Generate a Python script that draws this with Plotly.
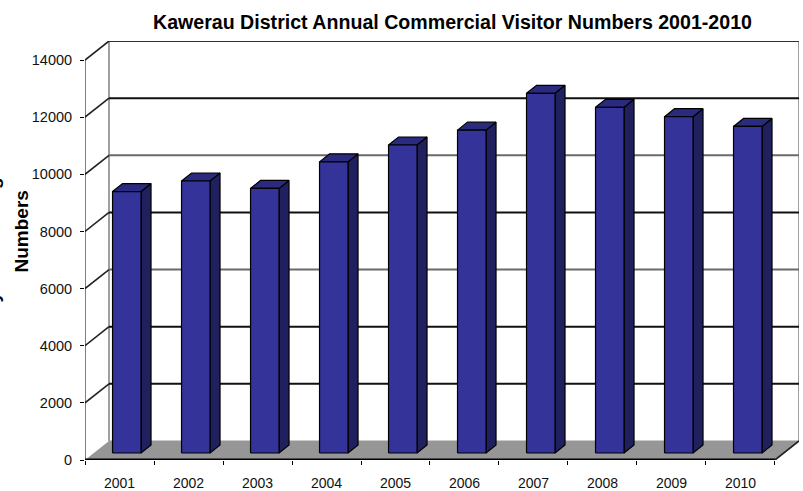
import plotly.graph_objects as go

# Annual commercial visitor counts for the Kawerau District
years = ["2001", "2002", "2003", "2004", "2005", "2006", "2007", "2008", "2009", "2010"]
visitors = [9150, 9520, 9260, 10190, 10780, 11300, 12590, 12100, 11770, 11430]
y_ticks = [0, 2000, 4000, 6000, 8000, 10000, 12000, 14000]
grid_colors = ["#111111", "#111111", "#6a6a6a", "#111111", "#6a6a6a", "#111111", "#333333"]

# Pseudo-3D projection, in axis units
WALL_DX = 0.348     # floor depth along x (categories)
WALL_DY = 665       # floor depth along y (visitors)
BAR_LEFT = 0.399    # front face offset inside a category
BAR_WIDTH = 0.413
BAR_BASE = 245      # front face sits slightly back on the floor
BAR_DX = 0.145      # bar depth
BAR_DY = 280
N = len(years)
Y_MAX = y_ticks[-1]

FONT = "Liberation Sans, Arial, sans-serif"


def polygons(shapes):
    xs, ys = [], []
    for shape in shapes:
        xs += [p[0] for p in shape] + [None]
        ys += [p[1] for p in shape] + [None]
    return xs, ys


def add_poly(fig, shapes, fill, line="black", width=1.2):
    xs, ys = polygons(shapes)
    fig.add_trace(go.Scatter(x=xs, y=ys, mode="lines", fill="toself", fillcolor=fill,
                             line=dict(color=line, width=width), hoverinfo="skip"))


def add_lines(fig, segments, color, width):
    xs, ys = polygons(segments)
    fig.add_trace(go.Scatter(x=xs, y=ys, mode="lines", line=dict(color=color, width=width),
                             hoverinfo="skip"))


fig = go.Figure()

# Floor
add_poly(fig, [[(0, 0), (N, 0), (N + WALL_DX, WALL_DY), (WALL_DX, WALL_DY)]], "#969696", "#969696", 1)

# Wall edges
add_lines(fig, [[(WALL_DX, WALL_DY), (WALL_DX, Y_MAX + WALL_DY)],
                [(N + WALL_DX, WALL_DY), (N + WALL_DX, Y_MAX + WALL_DY)]], "#a0a0a0", 2)

# Back wall gridlines and their diagonal run along the side wall
grid = [t for t in y_ticks if t > 0]
for t, color in zip(grid, grid_colors):
    add_lines(fig, [[(WALL_DX, t + WALL_DY), (N + WALL_DX, t + WALL_DY)]], color, 2)
add_lines(fig, [[(0, t), (WALL_DX, t + WALL_DY)] for t in grid], "#222222", 1.6)

# Bars: side, top, then front faces
fronts, sides, tops = [], [], []
for i, v in enumerate(visitors):
    x0 = i + BAR_LEFT
    x1 = x0 + BAR_WIDTH
    y0 = BAR_BASE
    y1 = BAR_BASE + v
    fronts.append([(x0, y0), (x1, y0), (x1, y1), (x0, y1), (x0, y0)])
    sides.append([(x1, y0), (x1 + BAR_DX, y0 + BAR_DY), (x1 + BAR_DX, y1 + BAR_DY), (x1, y1), (x1, y0)])
    tops.append([(x0, y1), (x1, y1), (x1 + BAR_DX, y1 + BAR_DY), (x0 + BAR_DX, y1 + BAR_DY), (x0, y1)])
add_poly(fig, sides, "#20205f")
add_poly(fig, tops, "#2a2a7f")
add_poly(fig, fronts, "#333399")

# Axis lines and the floor's front and right edges
add_lines(fig, [[(0, 0), (0, Y_MAX)]], "black", 1)
add_lines(fig, [[(0, 0), (N, 0)]], "black", 3)
add_lines(fig, [[(N, 0), (N + WALL_DX, WALL_DY)]], "#222222", 1.6)

fig.update_layout(
    width=803, height=491,
    autosize=False,
    margin=dict(l=85, r=4, t=41, b=31, autoexpand=False),
    paper_bgcolor="white",
    plot_bgcolor="white",
    showlegend=False,
    font=dict(family=FONT, color="#111111", size=14),
    xaxis=dict(
        range=[0, N + WALL_DX], showgrid=False, zeroline=False, showline=False,
        automargin=False,
        tickmode="array", tickvals=[i + 0.5 for i in range(N)], ticktext=years,
        ticks="", ticklen=0, tickfont=dict(size=14), ticklabelstandoff=13,
        minor=dict(tickmode="array", tickvals=list(range(N + 1)), ticks="outside",
                   ticklen=4, tickcolor="black", tickwidth=1, showgrid=False),
    ),
    yaxis=dict(
        range=[0, Y_MAX + 665], showgrid=False, zeroline=False, showline=False,
        automargin=False,
        tickmode="array", tickvals=y_ticks, ticktext=[str(t) for t in y_ticks],
        ticks="outside", ticklen=4, tickcolor="black", tickwidth=1,
        tickfont=dict(size=14.5), ticklabelstandoff=5,
    ),
    annotations=[
        dict(text="<b>Kawerau District Annual Commercial Visitor Numbers 2001-2010</b>",
             xref="paper", yref="paper", x=(452.5 - 85) / 714, y=1, yshift=19,
             xanchor="center", yanchor="middle", showarrow=False,
             font=dict(size=19.6, family=FONT, color="black")),
        dict(text="<b>Numbers</b>", xref="paper", yref="paper",
             x=-64 / 714, y=(460 - 231.5) / 419, xanchor="center", yanchor="middle",
             textangle=-90, showarrow=False, font=dict(size=19, family=FONT, color="black")),
        dict(text="<b>Yearly Visitors Log</b>", xref="paper", yref="paper",
             x=-93 / 714, y=(460 - 263) / 419, xanchor="center", yanchor="middle",
             textangle=-90, showarrow=False, font=dict(size=19, family=FONT, color="black")),
    ],
)

fig.write_html("out.html")
